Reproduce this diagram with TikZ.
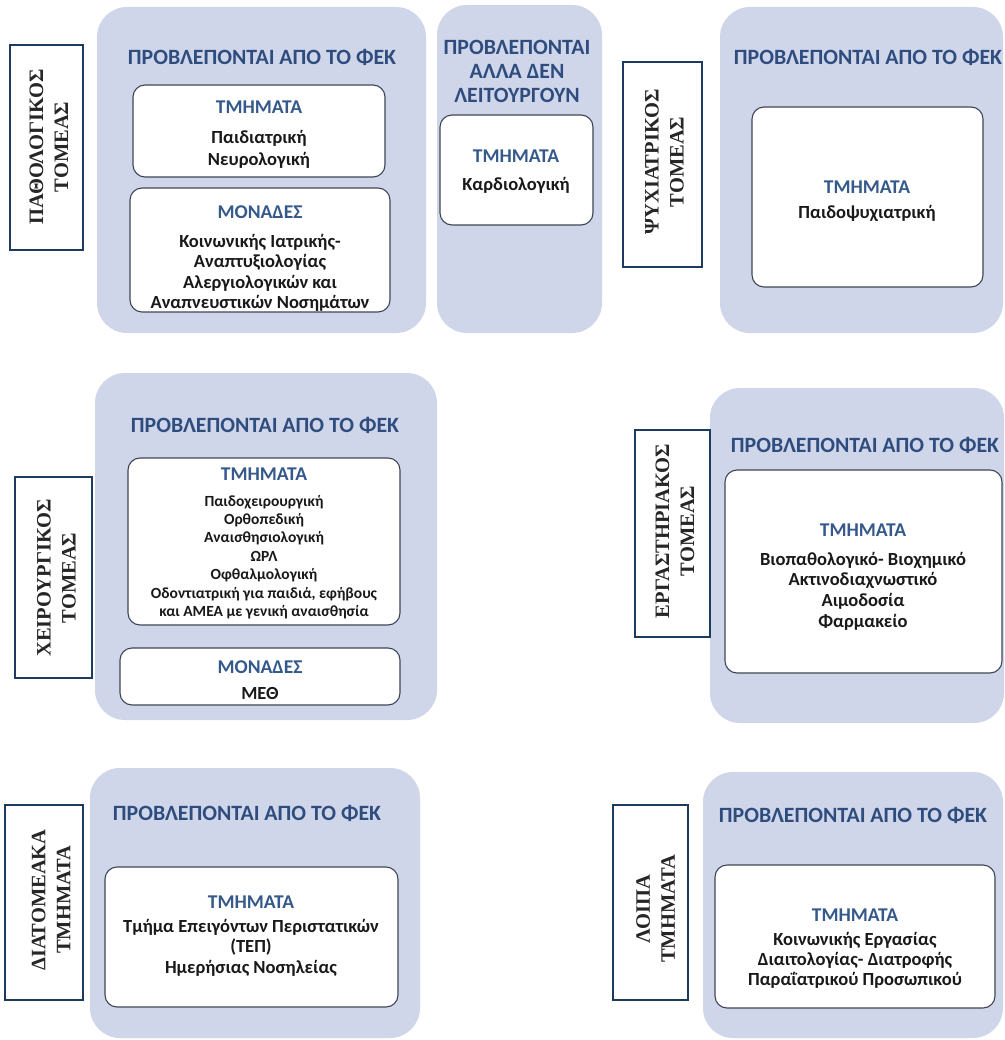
\documentclass[tikz,border=0pt]{standalone}
\usepackage{fontspec}
\setmainfont{Liberation Serif}
\newfontfamily\calfont{Carlito}
\definecolor{panelfill}{HTML}{D0D6EA}
\definecolor{headblue}{HTML}{2E4D7E}
\definecolor{subblue}{HTML}{34598A}
\definecolor{labelnavy}{HTML}{1F3A5F}
\definecolor{boxedge}{HTML}{3E4656}
\begin{document}
\begin{tikzpicture}[x=1pt,y=-1pt,
  panel/.style={rectangle,rounded corners=30pt,fill=panelfill,draw=none,inner sep=0pt},
  inbox/.style={rectangle,rounded corners=12pt,fill=white,draw=boxedge,line width=1.1pt,inner sep=0pt},
  lab/.style={rectangle,fill=white,draw=labelnavy,line width=2.8pt,inner sep=0pt},
  labtext/.style={rotate=90,align=center,font=\fontsize{20.5}{25}\selectfont\bfseries,text=black!85},
  head/.style={align=center,font=\calfont\fontsize{21.8}{24}\selectfont\bfseries,text=headblue},
  sub/.style={font=\calfont\fontsize{19.5}{21}\selectfont\bfseries,text=subblue},
  body/.style={align=center,font=\calfont\fontsize{18.5}{20.5}\selectfont\bfseries,text=black!90}]
\useasboundingbox (0,0) rectangle (1004,1040);
\clip (0,0) rectangle (1004,1040);
\fill[white] (0,0) rectangle (1004,1040);

% ---------- panels ----------
\node[panel,minimum width=329pt,minimum height=326pt] (p1) at (261.5,170) {};
\node[panel,minimum width=165pt,minimum height=328pt] (p2) at (519.5,169) {};
\node[panel,minimum width=283pt,minimum height=326pt] (p3) at (861.5,170) {};
\node[panel,minimum width=342pt,minimum height=347pt] (p4) at (266,546.5) {};
\node[panel,minimum width=294pt,minimum height=335pt] (p5) at (857,555.5) {};
\node[panel,minimum width=330pt,minimum height=270pt] (p6) at (255,903) {};
\node[panel,minimum width=300pt,minimum height=266pt] (p7) at (853,905) {};

% ---------- label boxes ----------
\node[lab,minimum width=73pt,minimum height=205pt] (l1) at (46.5,147.5) {};
\node[labtext] (l1t) at (49,147) {ΠΑΘΟΛΟΓΙΚΟΣ\\ΤΟΜΕΑΣ};
\node[lab,minimum width=79pt,minimum height=205pt] (l2) at (662.5,164.5) {};
\node[labtext] (l2t) at (664.5,162) {ΨΥΧΙΑΤΡΙΚΟΣ\\ΤΟΜΕΑΣ};
\node[lab,minimum width=77pt,minimum height=201pt] (l3) at (53.5,577.5) {};
\node[labtext] (l3t) at (56.5,578) {ΧΕΙΡΟΥΡΓΙΚΟΣ\\ΤΟΜΕΑΣ};
\node[lab,minimum width=75pt,minimum height=207pt] (l4) at (672.5,533.5) {};
\node[labtext] (l4t) at (675,531) {ΕΡΓΑΣΤΗΡΙΑΚΟΣ\\ΤΟΜΕΑΣ};
\node[lab,minimum width=78pt,minimum height=195pt] (l5) at (44,902.5) {};
\node[labtext] (l5t) at (51,900) {ΔΙΑΤΟΜΕΑΚΑ\\ΤΜΗΜΑΤΑ};
\node[lab,minimum width=75pt,minimum height=195pt] (l6) at (650.5,902.5) {};
\node[labtext] (l6t) at (655.5,909) {ΛΟΙΠΑ\\ΤΜΗΜΑΤΑ};

% ---------- panel 1 ----------
\node[head] (h1) at (262,57) {ΠΡΟΒΛΕΠΟΝΤΑΙ ΑΠΟ ΤΟ ΦΕΚ};
\node[inbox,minimum width=252pt,minimum height=92pt] (b1a) at (259,131) {};
\node[sub] (s1a) at (259,107) {ΤΜΗΜΑΤΑ};
\node[body,font=\calfont\fontsize{18.5}{22}\selectfont\bfseries] (t1a) at (259,149) {Παιδιατρική\\Νευρολογική};
\node[inbox,minimum width=260pt,minimum height=124pt] (b1b) at (260,250) {};
\node[sub] (s1b) at (260,212) {ΜΟΝΑΔΕΣ};
\node[body] (t1b) at (260,273) {Κοινωνικής Ιατρικής-\\Αναπτυξιολογίας\\Αλεργιολογικών και\\Αναπνευστικών Νοσημάτων};

% ---------- panel 2 ----------
\node[head] (h2) at (517,71) {ΠΡΟΒΛΕΠΟΝΤΑΙ\\ΑΛΛΑ ΔΕΝ\\ΛΕΙΤΟΥΡΓΟΥΝ};
\node[inbox,minimum width=153pt,minimum height=110pt] (b2a) at (516.5,170) {};
\node[sub] (s2a) at (516,156) {ΤΜΗΜΑΤΑ};
\node[body] (t2a) at (516,185) {Καρδιολογική};

% ---------- panel 3 ----------
\node[head] (h3) at (868,57) {ΠΡΟΒΛΕΠΟΝΤΑΙ ΑΠΟ ΤΟ ΦΕΚ};
\node[inbox,minimum width=231pt,minimum height=180pt] (b3a) at (867.5,197) {};
\node[sub] (s3a) at (867,187) {ΤΜΗΜΑΤΑ};
\node[body] (t3a) at (867,213) {Παιδοψυχιατρική};

% ---------- panel 4 ----------
\node[head] (h4) at (265,425) {ΠΡΟΒΛΕΠΟΝΤΑΙ ΑΠΟ ΤΟ ΦΕΚ};
\node[inbox,minimum width=272pt,minimum height=167pt] (b4a) at (264,541.5) {};
\node[sub] (s4a) at (264,474) {ΤΜΗΜΑΤΑ};
\node[body,font=\calfont\fontsize{15.5}{18.4}\selectfont\bfseries] (t4a) at (264,557) {Παιδοχειρουργική\\Ορθοπεδική\\Αναισθησιολογική\\ΩΡΛ\\Οφθαλμολογική\\Οδοντιατρική για παιδιά, εφήβους\\και ΑΜΕΑ με γενική αναισθησία};
\node[inbox,minimum width=280pt,minimum height=57pt] (b4b) at (260,676.5) {};
\node[sub] (s4b) at (260,667) {ΜΟΝΑΔΕΣ};
\node[body] (t4b) at (260,693) {ΜΕΘ};

% ---------- panel 5 ----------
\node[head] (h5) at (865,445) {ΠΡΟΒΛΕΠΟΝΤΑΙ ΑΠΟ ΤΟ ΦΕΚ};
\node[inbox,minimum width=277pt,minimum height=203pt] (b5a) at (863.5,571.5) {};
\node[sub] (s5a) at (863,530) {ΤΜΗΜΑΤΑ};
\node[body,font=\calfont\fontsize{18.5}{20.7}\selectfont\bfseries] (t5a) at (863,591) {Βιοπαθολογικό- Βιοχημικό\\Ακτινοδιαχνωστικό\\Αιμοδοσία\\Φαρμακείο};

% ---------- panel 6 ----------
\node[head] (h6) at (247,813) {ΠΡΟΒΛΕΠΟΝΤΑΙ ΑΠΟ ΤΟ ΦΕΚ};
\node[inbox,minimum width=293pt,minimum height=140pt] (b6a) at (251.5,937) {};
\node[sub] (s6a) at (251,902) {ΤΜΗΜΑΤΑ};
\node[body,font=\calfont\fontsize{18.5}{19.5}\selectfont\bfseries] (t6a) at (251,948) {Τμήμα Επειγόντων Περιστατικών\\(ΤΕΠ)\\[2pt]Ημερήσιας Νοσηλείας};

% ---------- panel 7 ----------
\node[head] (h7) at (853,815) {ΠΡΟΒΛΕΠΟΝΤΑΙ ΑΠΟ ΤΟ ΦΕΚ};
\node[inbox,minimum width=280pt,minimum height=143pt] (b7a) at (855,936.5) {};
\node[sub] (s7a) at (855,915) {ΤΜΗΜΑΤΑ};
\node[body,font=\calfont\fontsize{18.5}{20}\selectfont\bfseries] (t7a) at (855,960) {Κοινωνικής Εργασίας\\Διαιτολογίας- Διατροφής\\Παραΐατρικού Προσωπικού};
\end{tikzpicture}
\end{document}
